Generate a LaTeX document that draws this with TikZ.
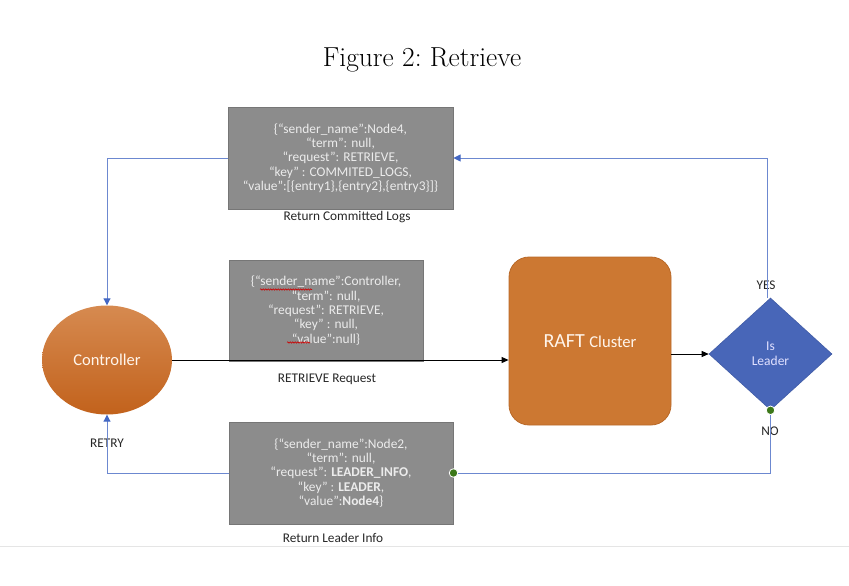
\documentclass[tikz,border=0pt]{standalone}
\usepackage{fontspec}
\newfontfamily\carl{Carlito}
\usetikzlibrary{shapes.geometric,arrows.meta,decorations.pathmorphing}
\definecolor{boxgray}{RGB}{140,140,140}
\definecolor{boxedge}{RGB}{118,118,118}
\definecolor{boxtext}{RGB}{236,236,236}
\definecolor{lineblue}{RGB}{108,136,208}
\definecolor{arrowblue}{RGB}{68,104,196}
\definecolor{raftorange}{RGB}{204,120,50}
\definecolor{raftedge}{RGB}{185,105,40}
\definecolor{ctrltop}{RGB}{214,138,80}
\definecolor{ctrlbot}{RGB}{194,98,28}
\definecolor{diablue}{RGB}{72,102,184}
\definecolor{dotgreen}{RGB}{60,120,25}
\tikzset{
  gbox/.style={draw=boxedge, line width=1pt, fill=boxgray, text=boxtext, align=center,
    font=\carl\fontsize{13.4}{14.3}\selectfont, inner sep=0pt},
  lbl/.style={font=\carl\fontsize{13.3}{15}\selectfont, text=black!85, inner sep=0pt},
  bl/.style={draw=lineblue, line width=0.95pt},
  blarrow/.style={bl, -{Triangle[length=7pt,width=7pt,color=arrowblue]}},
  bk/.style={draw=black, line width=0.9pt, -{Triangle[length=7pt,width=6pt]}},
  gdot/.style={circle, fill=dotgreen, draw=white, line width=0.8pt, minimum size=8.5pt, inner sep=0pt},
  squig/.style={draw=red!80!black, line width=0.6pt, decorate, decoration={snake, amplitude=0.7pt, segment length=2.5pt}}
}
\begin{document}
\begin{tikzpicture}[x=1pt,y=-1pt]
\useasboundingbox (0,0) rectangle (849,586);
\draw[black!10, line width=1pt] (0,546) -- (849,546);

\node[font=\fontsize{27.5}{30}\selectfont, inner sep=0pt] (title) at (422,60) {Figure 2:\ Retrieve};

% boxes
\node[gbox, minimum width=225pt, minimum height=102pt] (b1) at (340.5,158)
  {\{“sender\_name”:Node4,\\ “term”: null,\\ “request”: RETRIEVE,\\ “key” : COMMITED\_LOGS,\\ “value”:[\{entry1\},\{entry2\},\{entry3\}]\}};
\node[lbl] (l1) at (347,217) {Return Committed Logs};

\node[gbox, minimum width=194pt, minimum height=101pt] (b2) at (326,310.5)
  {\{“sender\_name”:Controller,\\ “term”: null,\\ “request”: RETRIEVE,\\ “key” : null,\\ “value”:null\}};
\node[lbl] (l2) at (327,379) {RETRIEVE Request};

\node[gbox, minimum width=224pt, minimum height=102pt] (b3) at (341,473)
  {\{“sender\_name”:Node2,\\ “term”: null,\\ “request”: \textbf{LEADER\_INFO},\\ “key” : \textbf{LEADER},\\ “value”:\textbf{Node4}\}};
\node[lbl] (l3) at (333,538) {Return Leader Info};

% controller
\node[ellipse, minimum width=130pt, minimum height=109pt, inner sep=0pt,
  top color=ctrltop, bottom color=ctrlbot, draw=none,
  text=white!92!orange, font=\carl\fontsize{16.5}{18}\selectfont] (ctrl) at (107,360) {Controller};

% raft
\node[draw=raftedge, line width=0.8pt, fill=raftorange, rounded corners=20pt,
  minimum width=162pt, minimum height=168pt, inner sep=0pt,
  text=white!92!orange] (raft) at (590,341) {\carl\fontsize{20}{22}\selectfont RAFT \fontsize{16.6}{18}\selectfont Cluster};

% diamond
\node[diamond, fill=diablue, draw=diablue!90!black, line width=0.6pt, minimum width=123pt, minimum height=112pt,
  inner sep=0pt, align=center, text=white!88!blue, font=\carl\fontsize{13.5}{15}\selectfont] (dia) at (770.5,354) {Is\\Leader};

\node[lbl] (yes) at (766,285) {YES};
\node[lbl] (no) at (770,431) {NO};
\node[lbl] (retry) at (107,443) {RETRY};

% connectors
\draw[blarrow] ([xshift=-3.5pt]dia.north) |- (b1.east);
\draw[blarrow] (b1.west) -| (ctrl.north);
\draw[bk] (ctrl.east) -- (ctrl.east -| raft.west);
\draw[bk] (raft.east |- dia.west) -- (dia.west);
\draw[bl] (dia.south) |- (b3.east);
\draw[blarrow] (b3.west) -| (ctrl.south);
\node[gdot] (d1) at (dia.south) {};
\node[gdot] (d2) at (b3.east) {};

% spell-check squiggles
\draw[squig] (260,289.5) -- (312,289.5);
\draw[squig] (287,342.5) -- (310,342.5);
\end{tikzpicture}
\end{document}
